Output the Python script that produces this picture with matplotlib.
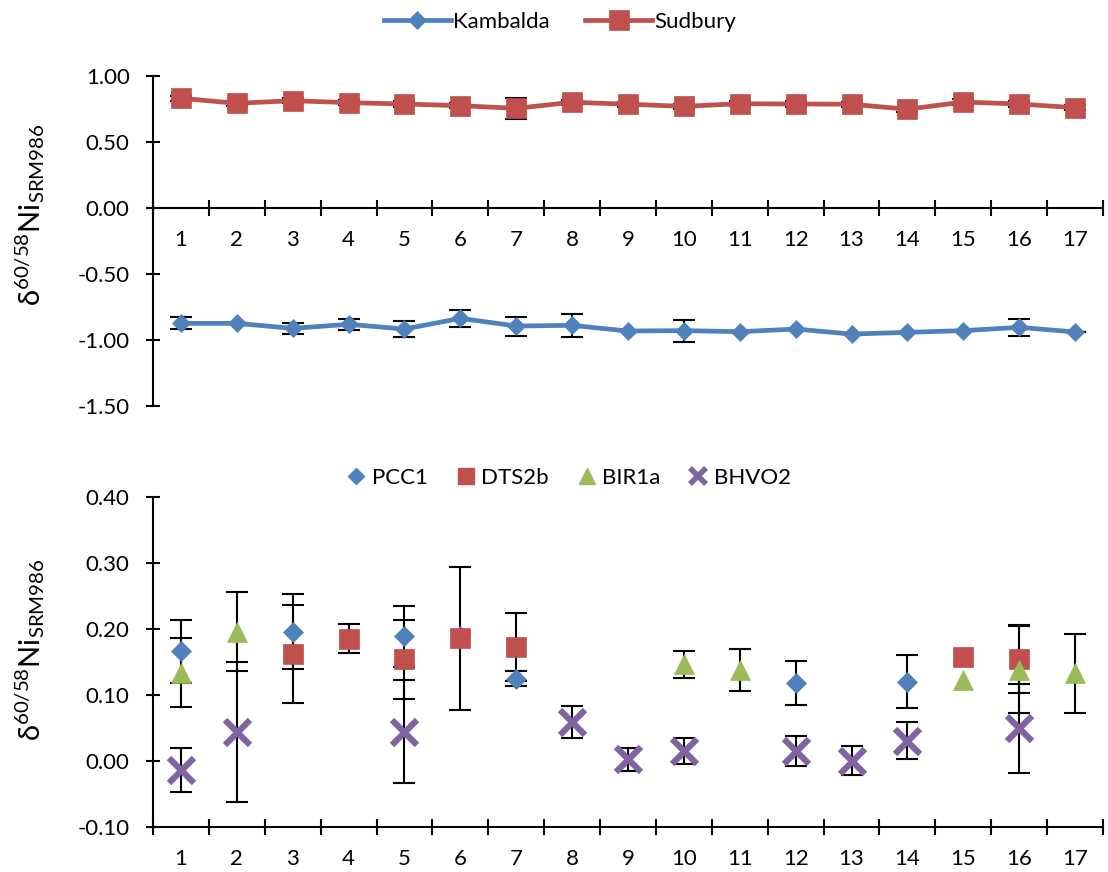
import numpy as np
import matplotlib
matplotlib.use("Agg")
import matplotlib.pyplot as plt
from matplotlib.lines import Line2D

# ---------------- data ----------------
categories = list(range(1, 18))
cat_labels = [str(c) for c in categories]

kambalda = [-0.874, -0.874, -0.912, -0.881, -0.917, -0.836, -0.894, -0.889, -0.932,
            -0.929, -0.937, -0.917, -0.955, -0.942, -0.929, -0.904, -0.939]
kambalda_err = [0.045, 0.0, 0.04, 0.04, 0.058, 0.063, 0.072, 0.087, 0.0,
                0.083, 0.0, 0.0, 0.0, 0.0, 0.0, 0.063, 0.0]
sudbury = [0.831, 0.793, 0.813, 0.798, 0.788, 0.775, 0.755, 0.801, 0.786,
           0.770, 0.790, 0.788, 0.786, 0.748, 0.803, 0.788, 0.760]
sudbury_err = [0.02, 0.02, 0.02, 0.02, 0.02, 0.02, 0.082, 0.02, 0.02,
               0.02, 0.02, 0.02, 0.02, 0.02, 0.02, 0.02, 0.02]

nan = np.nan
pcc1 = [0.166, nan, 0.196, nan, 0.189, 0.190, 0.125, nan, nan,
        nan, nan, 0.118, nan, 0.120, nan, nan, nan]
pcc1_err = [0.048, 0, 0.057, 0, 0.046, 0.0, 0.011, 0, 0,
            0, 0, 0.033, 0, 0.040, 0, 0, 0]
dts2b = [nan, nan, 0.162, 0.185, 0.154, 0.186, 0.173, nan, nan,
         nan, nan, nan, nan, nan, 0.157, 0.1545, nan]
dts2b_err = [0, 0, 0.074, 0.022, 0.060, 0.108, 0.052, 0, 0,
             0, 0, 0, 0, 0, 0.0, 0.052, 0]
bir1a = [0.134, 0.196, nan, nan, nan, nan, nan, nan, nan,
         0.1465, 0.138, nan, nan, nan, 0.123, 0.138, 0.133]
bir1a_err = [0.052, 0.060, 0, 0, 0, 0, 0, 0, 0,
             0.020, 0.032, 0, 0, 0, 0.0, 0.066, 0.060]
bhvo2 = [-0.0136, 0.0444, nan, nan, 0.0444, nan, nan, 0.0596, 0.0025,
         0.0156, nan, 0.0156, 0.0005, 0.0308, nan, 0.0495, nan]
bhvo2_err = [0.033, 0.106, 0, 0, 0.078, 0, 0, 0.024, 0.017,
             0.020, 0, 0.023, 0.022, 0.028, 0, 0.067, 0]

# ---------------- style ----------------
FONT = "Lato"
plt.rcParams['font.family'] = [FONT, 'DejaVu Sans']
plt.rcParams['mathtext.fontset'] = 'custom'
plt.rcParams['mathtext.rm'] = FONT
plt.rcParams['mathtext.it'] = FONT
plt.rcParams['mathtext.default'] = 'regular'

BLUE = '#4F81BD'
RED = '#C0504D'
GREEN = '#9BBB59'
PURPLE = '#8064A2'
TICK_FS = 16
W, H = 1108, 872

fig = plt.figure(figsize=(W / 100, H / 100), dpi=100)

def px_axes(x0, x1, ytop, ybot):
    return fig.add_axes([x0 / W, 1 - ybot / H, (x1 - x0) / W, (ybot - ytop) / H])

ax1 = px_axes(153, 1103, 76, 406)
ax2 = px_axes(153, 1103, 497, 827)

x = np.array(categories, dtype=float)

def style_axis(ax):
    for s in ['top', 'right']:
        ax.spines[s].set_visible(False)
    for s in ['left', 'bottom']:
        ax.spines[s].set_linewidth(1.5)
    ax.set_xlim(0.5, 17.5)
    ax.set_xticks(x)
    ax.set_xticklabels(cat_labels)
    ax.set_xticks(np.arange(0.5, 18.0, 1.0), minor=True)
    ax.tick_params(axis='x', which='major', length=0, pad=16, labelsize=TICK_FS)
    ax.tick_params(axis='x', which='minor', direction='inout', length=12, width=1.5)
    ax.tick_params(axis='y', direction='inout', length=9.5, width=1.5,
                   labelsize=TICK_FS, pad=12)

# ---------------- top panel ----------------
ax1.spines['bottom'].set_position(('data', 0))
style_axis(ax1)
ax1.set_ylim(-1.5, 1.0)
ax1.set_yticks([-1.5, -1.0, -0.5, 0.0, 0.5, 1.0])
ax1.set_yticklabels([f"{v:.2f}" for v in [-1.5, -1.0, -0.5, 0.0, 0.5, 1.0]])

ax1.errorbar(x, kambalda, yerr=kambalda_err, fmt='none', ecolor='black',
             elinewidth=1.5, capsize=8, capthick=1.5, zorder=2)
ax1.errorbar(x, sudbury, yerr=sudbury_err, fmt='none', ecolor='black',
             elinewidth=1.5, capsize=8, capthick=1.5, zorder=2)
l1, = ax1.plot(x, kambalda, color=BLUE, lw=3.4, marker='D', ms=9.5,
               mec=BLUE, mew=0.5, zorder=3, label='Kambalda')
l2, = ax1.plot(x, sudbury, color=RED, lw=3.4, marker='s', ms=14,
               mec=RED, mew=0.5, zorder=3, label='Sudbury')

fig.legend(handles=[l1, l2], loc='center', bbox_to_anchor=(560 / W, 1 - 22 / H),
           ncol=2, frameon=False, fontsize=TICK_FS, handlelength=3.0,
           columnspacing=1.6, handletextpad=0.1)

# ---------------- bottom panel ----------------
style_axis(ax2)
ax2.set_ylim(-0.1, 0.4)
yt = [-0.1, 0.0, 0.1, 0.2, 0.3, 0.4]
ax2.set_yticks(yt)
ax2.set_yticklabels([f"{v:.2f}" for v in yt])

series = [
    (pcc1, pcc1_err, 'PCC1', dict(marker='D', ms=9.8, color=BLUE, mec=BLUE, mew=0.5)),
    (dts2b, dts2b_err, 'DTS2b', dict(marker='s', ms=14.5, color=RED, mec=RED, mew=0.5)),
    (bir1a, bir1a_err, 'BIR1a', dict(marker='^', ms=14.5, color=GREEN, mec=GREEN, mew=0.5)),
    (bhvo2, bhvo2_err, 'BHVO2', dict(marker='x', ms=18, color=PURPLE, mec=PURPLE, mew=4.5)),
]
for vals, errs, name, kw in series:
    v = np.array(vals, dtype=float)
    e = np.array(errs, dtype=float)
    m = ~np.isnan(v) & (e > 0)
    ax2.errorbar(x[m], v[m], yerr=e[m], fmt='none', ecolor='black',
                 elinewidth=1.5, capsize=8, capthick=1.5, zorder=2)
    ax2.plot(x, v, ls='none', zorder=3, label=name, **kw)

leg_handles = [
    Line2D([], [], ls='none', marker='D', ms=8, color=BLUE),
    Line2D([], [], ls='none', marker='s', ms=12, color=RED),
    Line2D([], [], ls='none', marker='^', ms=12, color=GREEN),
    Line2D([], [], ls='none', marker='x', ms=12, color=PURPLE, mew=4),
]
fig.legend(handles=leg_handles, labels=['PCC1', 'DTS2b', 'BIR1a', 'BHVO2'],
           loc='center', bbox_to_anchor=(568 / W, 1 - 478 / H), ncol=4,
           frameon=False, fontsize=TICK_FS, handlelength=1.0,
           columnspacing=1.2, handletextpad=0.2)

# ---------------- y labels ----------------
ylab = r'δ$^{60/58}$Ni$_{SRM986}$'
fig.text(30 / W, 1 - 215 / H, ylab, rotation=90, ha='center', va='center', fontsize=21)
fig.text(30 / W, 1 - 650 / H, ylab, rotation=90, ha='center', va='center', fontsize=21)

fig.savefig('out.png', dpi=100)
